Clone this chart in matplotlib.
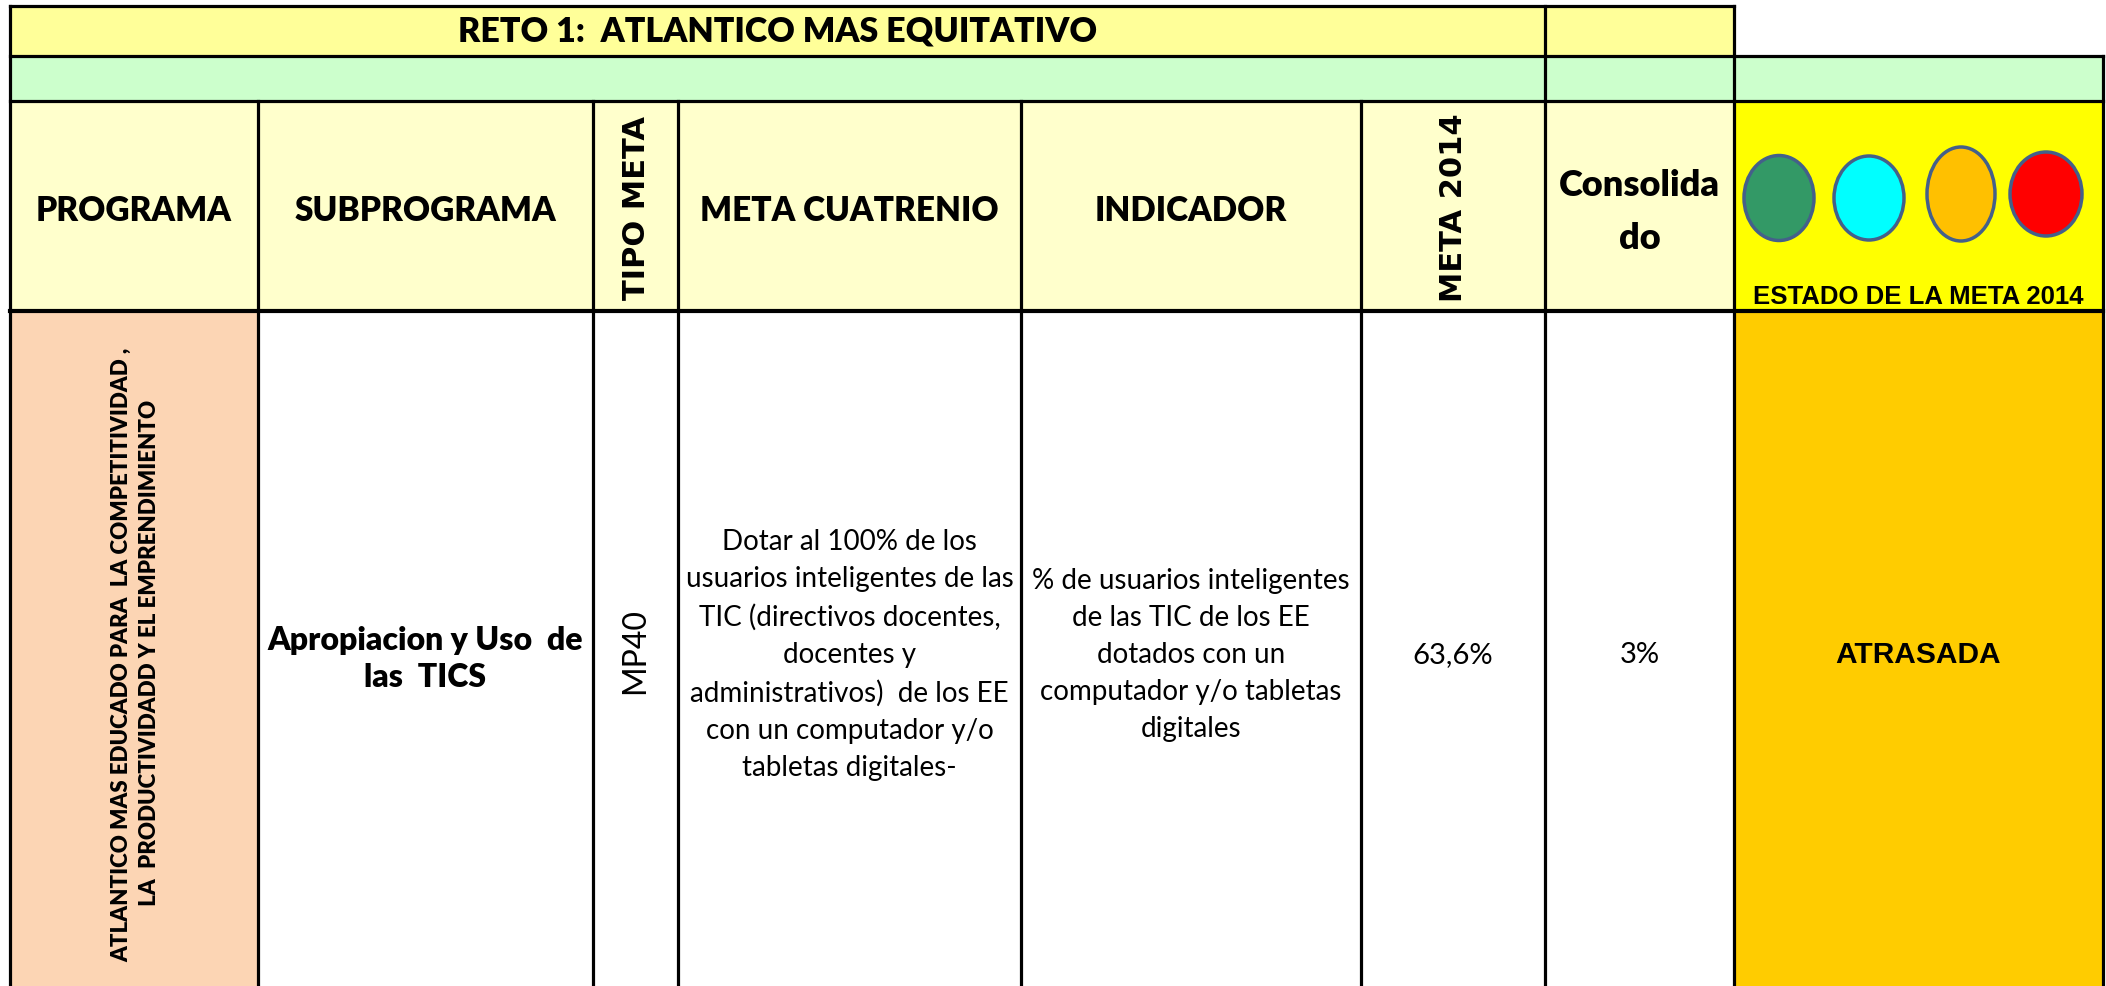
import matplotlib.pyplot as plt
from matplotlib.patches import Rectangle, Ellipse

# datos de la tabla
titulo = "RETO 1:  ATLANTICO MAS EQUITATIVO"
encabezados = ["PROGRAMA", "SUBPROGRAMA", "TIPO META", "META CUATRENIO",
               "INDICADOR", "META 2014", "Consolida\ndo"]
encabezado_estado = "ESTADO DE LA META 2014"
semaforo = ["#339966", "#00FFFF", "#FFC000", "#FF0000"]

programa = "ATLANTICO MAS EDUCADO PARA  LA COMPETITIVIDAD ,\n LA  PRODUCTIVIDADD Y EL EMPRENDIMIENTO"
subprograma = "Apropiacion y Uso  de\nlas  TICS"
tipo_meta = "MP40"
meta_cuatrenio = ("Dotar al 100% de los\nusuarios inteligentes de las\n"
                  "TIC (directivos docentes,\ndocentes y\n"
                  "administrativos)  de los EE\ncon un computador y/o\n"
                  "tabletas digitales-")
indicador = ("% de usuarios inteligentes\nde las TIC de los EE\n"
             "dotados con un\ncomputador y/o tabletas\ndigitales")
meta_2014 = "63,6%"
consolidado = "3%"
estado = "ATRASADA"

# layout
W, H = 2106, 987
xs = [10, 258, 593, 678, 1021, 1361, 1545, 1734, 2103]
ys = [7, 57, 102, 312, H]

fig = plt.figure(figsize=(W / 100, H / 100), dpi=100)
ax = fig.add_axes([0, 0, 1, 1])
ax.set_xlim(0, W)
ax.set_ylim(H, 0)
ax.axis("off")

def caja(x0, x1, y0, y1, color):
    ax.add_patch(Rectangle((x0, y0), x1 - x0, y1 - y0, facecolor=color, edgecolor="none"))

# fondos
caja(xs[0], xs[7], ys[0], ys[1], "#FFFF99")
caja(xs[0], xs[8], ys[1], ys[2], "#CCFFCC")
caja(xs[0], xs[7], ys[2], ys[3], "#FFFFCC")
caja(xs[7], xs[8], ys[2], ys[3], "#FFFF00")
caja(xs[0], xs[1], ys[3], ys[4], "#FCD5B4")
caja(xs[1], xs[7], ys[3], ys[4], "white")
caja(xs[7], xs[8], ys[3], ys[4], "#FFCC00")

# lineas
lw = 2.3
ax.plot([xs[0], xs[7]], [ys[0], ys[0]], color="black", lw=lw)
for y in ys[1:3]:
    ax.plot([xs[0], xs[8]], [y, y], color="black", lw=lw)
ax.plot([xs[0], xs[8]], [ys[3], ys[3]], color="black", lw=3.0)
for x in [xs[0], xs[6], xs[7]]:
    ax.plot([x, x], [ys[0], H], color="black", lw=lw)
ax.plot([xs[8], xs[8]], [ys[1], H], color="black", lw=lw)
for x in xs[1:6]:
    ax.plot([x, x], [ys[2], H], color="black", lw=lw)

cal = "Lato"
negrita = "heavy"
ax.text((xs[0] + xs[6]) / 2, 31, titulo, ha="center", va="center",
        fontsize=24.5, fontweight=negrita, family=cal)

# encabezados
for i, t in enumerate(encabezados):
    xc = (xs[i] + xs[i + 1]) / 2
    if i in (2, 5):
        ax.text(xc + 1, 208, t, ha="center", va="center", rotation=90,
                fontsize=22, fontweight="bold", family="DejaVu Sans")
    elif i == 6:
        ax.text(xc, 212, t, ha="center", va="center", fontsize=26,
                fontweight=negrita, family=cal, linespacing=1.75)
    else:
        ax.text(xc, 211, t, ha="center", va="center", fontsize=24,
                fontweight=negrita, family=cal)

# semaforo
cx = [1779, 1869, 1961, 2046]
cy = [199, 199, 195, 195]
ew = [70, 70, 68, 72]
eh = [85, 84, 94, 84]
for i, c in enumerate(semaforo):
    ax.add_patch(Ellipse((cx[i], cy[i]), ew[i], eh[i], facecolor=c,
                         edgecolor="#44608A", lw=2.5))
ax.text((xs[7] + xs[8]) / 2, 297, encabezado_estado, ha="center", va="center",
        fontsize=18.5, fontweight="bold", family="Liberation Sans")

# cuerpo
yb = 655
ax.text((xs[0] + xs[1]) / 2 + 2, yb, programa, ha="center", va="center",
        rotation=90, fontsize=16, fontweight=negrita, family=cal, linespacing=1.4)
ax.text((xs[1] + xs[2]) / 2, yb + 4, subprograma, ha="center", va="center",
        fontsize=23, fontweight=negrita, family=cal, linespacing=1.3)
ax.text((xs[2] + xs[3]) / 2, yb - 4, tipo_meta, ha="center", va="center",
        rotation=90, fontsize=23, family=cal)
ax.text((xs[3] + xs[4]) / 2, yb, meta_cuatrenio, ha="center", va="center",
        fontsize=20, family=cal, linespacing=1.53)
ax.text((xs[4] + xs[5]) / 2, yb, indicador, ha="center", va="center",
        fontsize=20, family=cal, linespacing=1.53)
ax.text((xs[5] + xs[6]) / 2, yb, meta_2014, ha="center", va="center",
        fontsize=21, family=cal)
ax.text((xs[6] + xs[7]) / 2, yb, consolidado, ha="center", va="center",
        fontsize=21, family=cal)
ax.text((xs[7] + xs[8]) / 2, yb, estado, ha="center", va="center",
        fontsize=21.5, fontweight="bold", family="Liberation Sans")

fig.savefig("out.png", dpi=100)
